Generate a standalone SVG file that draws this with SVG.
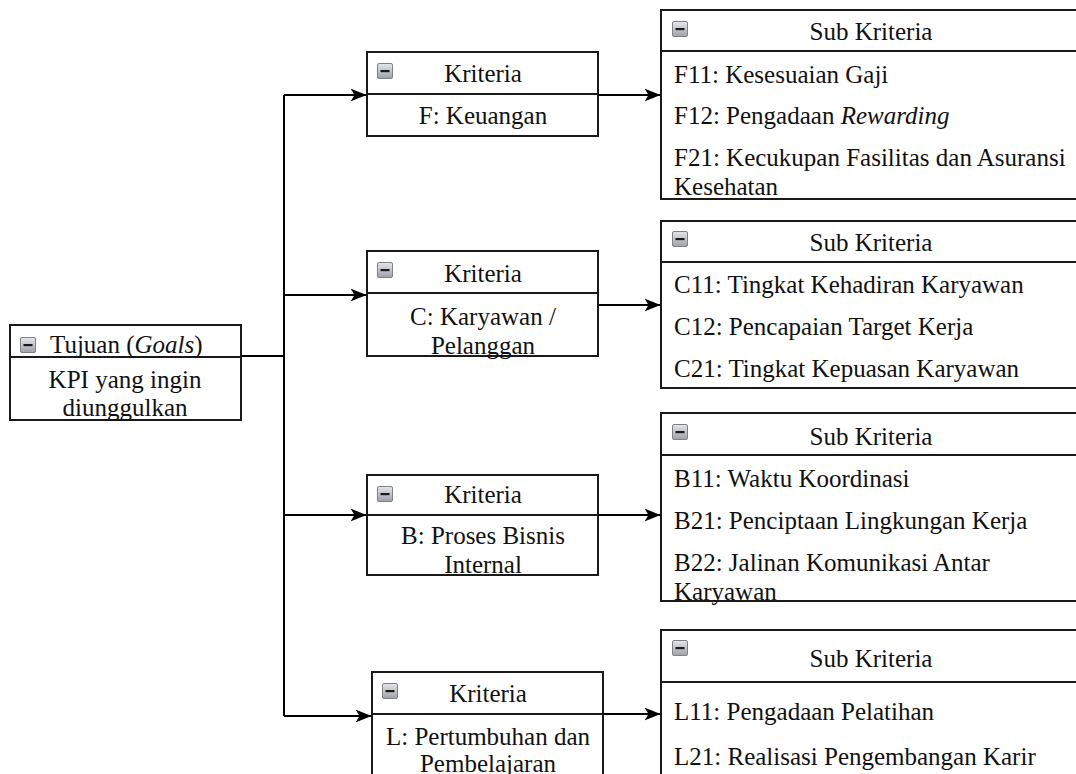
<svg xmlns="http://www.w3.org/2000/svg" width="1076" height="774" viewBox="0 0 1076 774">
  <style>
    .box { fill: #ffffff; stroke: #1a1a1a; stroke-width: 2; }
    .div { stroke: #1a1a1a; stroke-width: 2; fill: none; }
    .wire { stroke: #000000; stroke-width: 2; fill: none; }
    text { font-family: "Liberation Serif", "Times New Roman", serif; font-size: 25px; fill: #111111; }
    .c { text-anchor: middle; }
  </style>
  <defs>
    <linearGradient id="iconFill" x1="0" y1="0" x2="0" y2="1">
      <stop offset="0" stop-color="#e4e6ea"/>
      <stop offset="1" stop-color="#9ea2a8"/>
    </linearGradient>
    <symbol id="collapse" viewBox="0 0 16 16">
      <rect x="0.5" y="0.5" width="15" height="15" rx="1.5" fill="url(#iconFill)" stroke="#7d8188"/>
      <rect x="3.5" y="7" width="9" height="2.2" fill="#1a1a1a"/>
    </symbol>
    <marker id="arrow" viewBox="0 0 16 14" refX="15.5" refY="7" markerWidth="16" markerHeight="14" markerUnits="userSpaceOnUse" orient="auto">
      <path d="M0,0.5 L16,7 L0,13.5 L4,7 Z" fill="#000000"/>
    </marker>
  </defs>

  <!-- connectors -->
  <g id="connectors">
    <path class="wire" d="M241,356 H284"/>
    <path class="wire" d="M284,95 V716"/>
    <path class="wire" d="M284,95 H366" marker-end="url(#arrow)"/>
    <path class="wire" d="M284,295 H366" marker-end="url(#arrow)"/>
    <path class="wire" d="M284,515 H366" marker-end="url(#arrow)"/>
    <path class="wire" d="M284,716 H371" marker-end="url(#arrow)"/>
    <path class="wire" d="M598,95 H660" marker-end="url(#arrow)"/>
    <path class="wire" d="M598,305 H660" marker-end="url(#arrow)"/>
    <path class="wire" d="M598,515 H660" marker-end="url(#arrow)"/>
    <path class="wire" d="M603,714 H660" marker-end="url(#arrow)"/>
  </g>

  <!-- goal -->
  <g id="goal">
    <rect class="box" x="10" y="325" width="231" height="95"/>
    <path class="div" d="M10,357 H241"/>
    <use href="#collapse" x="20" y="337" width="16" height="16"/>
    <text x="50" y="353">Tujuan (<tspan font-style="italic">Goals</tspan>)</text>
    <text class="c" x="125" y="388">KPI yang ingin</text>
    <text class="c" x="125" y="416">diunggulkan</text>
  </g>

  <!-- criteria -->
  <g id="kriteria-f">
    <rect class="box" x="367" y="52" width="231" height="84"/>
    <path class="div" d="M367,94 H598"/>
    <use href="#collapse" x="377" y="63" width="16" height="16"/>
    <text class="c" x="483" y="82">Kriteria</text>
    <text class="c" x="483" y="124">F: Keuangan</text>
  </g>
  <g id="kriteria-c">
    <rect class="box" x="367" y="251" width="231" height="105"/>
    <path class="div" d="M367,293 H598"/>
    <use href="#collapse" x="377" y="262" width="16" height="16"/>
    <text class="c" x="483" y="282">Kriteria</text>
    <text class="c" x="483" y="325">C: Karyawan /</text>
    <text class="c" x="483" y="354">Pelanggan</text>
  </g>
  <g id="kriteria-b">
    <rect class="box" x="367" y="475" width="231" height="100"/>
    <path class="div" d="M367,515 H598"/>
    <use href="#collapse" x="377" y="486" width="16" height="16"/>
    <text class="c" x="483" y="503">Kriteria</text>
    <text class="c" x="483" y="544">B: Proses Bisnis</text>
    <text class="c" x="483" y="573">Internal</text>
  </g>
  <g id="kriteria-l">
    <rect class="box" x="372" y="672" width="231" height="110"/>
    <path class="div" d="M372,714 H603"/>
    <use href="#collapse" x="382" y="683" width="16" height="16"/>
    <text class="c" x="488" y="702">Kriteria</text>
    <text class="c" x="488" y="745">L: Pertumbuhan dan</text>
    <text class="c" x="488" y="772">Pembelajaran</text>
  </g>

  <!-- sub-criteria -->
  <g id="sub-f">
    <rect class="box" x="661" y="10" width="425" height="189"/>
    <path class="div" d="M661,51 H1086"/>
    <use href="#collapse" x="672" y="21" width="16" height="16"/>
    <text class="c" x="871" y="40">Sub Kriteria</text>
    <text x="674" y="83">F11: Kesesuaian Gaji</text>
    <text x="674" y="124">F12: Pengadaan <tspan font-style="italic">Rewarding</tspan></text>
    <text x="674" y="166">F21: Kecukupan Fasilitas dan Asuransi</text>
    <text x="674" y="195">Kesehatan</text>
  </g>
  <g id="sub-c">
    <rect class="box" x="661" y="221" width="425" height="167"/>
    <path class="div" d="M661,262 H1086"/>
    <use href="#collapse" x="672" y="231" width="16" height="16"/>
    <text class="c" x="871" y="251">Sub Kriteria</text>
    <text x="674" y="293">C11: Tingkat Kehadiran Karyawan</text>
    <text x="674" y="335">C12: Pencapaian Target Kerja</text>
    <text x="674" y="377">C21: Tingkat Kepuasan Karyawan</text>
  </g>
  <g id="sub-b">
    <rect class="box" x="661" y="413" width="425" height="188"/>
    <path class="div" d="M661,455 H1086"/>
    <use href="#collapse" x="672" y="424" width="16" height="16"/>
    <text class="c" x="871" y="445">Sub Kriteria</text>
    <text x="674" y="487">B11: Waktu Koordinasi</text>
    <text x="674" y="529">B21: Penciptaan Lingkungan Kerja</text>
    <text x="674" y="571">B22: Jalinan Komunikasi Antar</text>
    <text x="674" y="600">Karyawan</text>
  </g>
  <g id="sub-l">
    <rect class="box" x="661" y="630" width="425" height="160"/>
    <path class="div" d="M661,682 H1086"/>
    <use href="#collapse" x="672" y="640" width="16" height="16"/>
    <text class="c" x="871" y="667">Sub Kriteria</text>
    <text x="674" y="720">L11: Pengadaan Pelatihan</text>
    <text x="674" y="765">L21: Realisasi Pengembangan Karir</text>
  </g>
</svg>
